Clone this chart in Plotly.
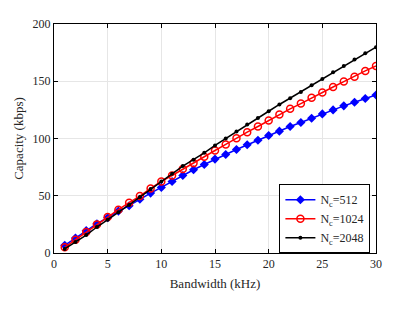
import plotly.graph_objects as go

bandwidth = list(range(1, 31))
cap_512 = [6.7, 13, 19.5, 25.6, 30.8, 36.6, 41.3, 47, 52.3, 57.3, 62.5, 67.7, 72.7, 77.3, 82,
           86, 90.4, 94.5, 98.5, 102.6, 106.4, 110.5, 114, 117.7, 121.5, 125, 128.5, 131.7, 134.9, 138]
cap_1024 = [5, 11.6, 18.3, 25, 31.4, 37.8, 43.9, 49.7, 56.4, 62.5, 67.7, 73.3, 78.5, 84, 89.5,
            94.8, 100.3, 105.5, 110.5, 115.7, 120.9, 125.9, 130.5, 135.5, 140.1, 145, 149.7, 154, 159, 163.4]
cap_2048 = [3.5, 9.6, 15.7, 22.7, 29, 35.5, 42, 48.8, 55.8, 62.5, 69.2, 75.9, 81.4, 87.5, 93.9,
            100, 106.1, 112.2, 118, 123.8, 129.7, 135.2, 140.7, 146.5, 152, 157.8, 163.4, 168.9, 174.4, 179.7]
names = ["N<sub>c</sub>=512", "N<sub>c</sub>=1024", "N<sub>c</sub>=2048"]

fig = go.Figure()
fig.add_trace(go.Scatter(x=bandwidth, y=cap_512, name=names[0], mode="lines+markers",
                         line=dict(color="#0000ff", width=1.5),
                         marker=dict(symbol="diamond", size=7, color="#0000ff")))
fig.add_trace(go.Scatter(x=bandwidth, y=cap_1024, name=names[1], mode="lines+markers",
                         line=dict(color="#ff0000", width=1.5),
                         marker=dict(symbol="circle-open", size=7, color="#ff0000", line=dict(width=1.5))))
fig.add_trace(go.Scatter(x=bandwidth, y=cap_2048, name=names[2], mode="lines+markers",
                         line=dict(color="#000000", width=1.5),
                         marker=dict(symbol="circle", size=4, color="#000000")))

axis_common = dict(showline=True, linecolor="black", linewidth=1, mirror="ticks",
                   ticks="inside", ticklen=4, tickcolor="black",
                   showgrid=True, gridcolor="#e6e6e6", gridwidth=1, zeroline=False,
                   tickfont=dict(family="Liberation Serif", size=12, color="#262626"))
fig.update_xaxes(range=[0, 30], dtick=5, title=dict(text="Bandwidth (kHz)", font=dict(family="Liberation Serif", size=13, color="#262626"), standoff=8), **axis_common)
fig.update_yaxes(range=[0, 200], dtick=50, title=dict(text="Capacity (kbps)", font=dict(family="Liberation Serif", size=13, color="#262626"), standoff=6), **axis_common)

fig.update_layout(width=415, height=312, margin=dict(l=54, r=39, t=24, b=59),
                  paper_bgcolor="white", plot_bgcolor="white",
                  font=dict(family="Liberation Serif", size=12, color="#262626"),
                  legend=dict(x=0.70, y=0.30, xanchor="left", yanchor="top",
                              bgcolor="white", bordercolor="black", borderwidth=1,
                              font=dict(family="Liberation Serif", size=12, color="#262626"),
                              itemwidth=30, tracegroupgap=0))

fig.write_html("out.html", config={"displayModeBar": False},
               post_script="document.body.style.margin='0';document.body.style.overflow='hidden';")
